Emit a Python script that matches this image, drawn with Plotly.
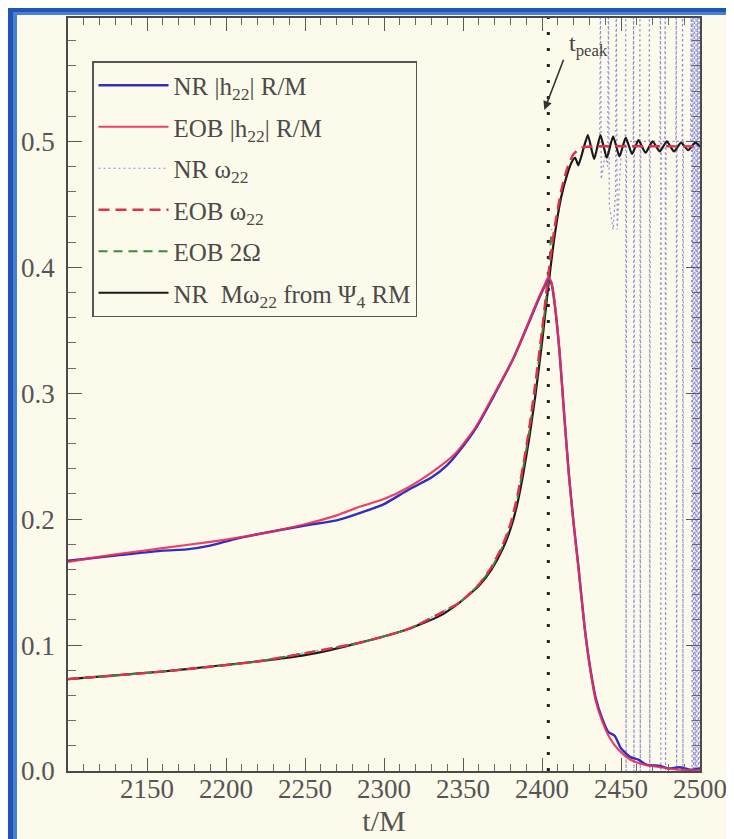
import plotly.graph_objects as go

# ---------------- data ----------------
t_peak = 2404

# EOB |h22| R/M
t_eob_amp = [2100, 2130, 2160, 2190, 2220, 2250, 2270, 2285, 2300, 2315, 2330, 2345, 2358, 2370,
             2382, 2392, 2398, 2402, 2404, 2406, 2408, 2411, 2414, 2417, 2420, 2423, 2427, 2430,
             2434, 2438, 2443, 2449, 2456, 2465, 2475, 2487, 2500]
eob_amp = [0.166, 0.172, 0.177, 0.182, 0.188, 0.196, 0.203, 0.210, 0.216, 0.225, 0.237, 0.252, 0.273, 0.300,
           0.328, 0.358, 0.376, 0.387, 0.392, 0.388, 0.372, 0.335, 0.283, 0.235, 0.196, 0.162, 0.113, 0.085,
           0.056, 0.040, 0.026, 0.016, 0.009, 0.005, 0.003, 0.001, 0.0005]

# NR |h22| R/M
t_nr_amp = [2100, 2130, 2160, 2175, 2190, 2205, 2220, 2250, 2270, 2285, 2300, 2315, 2330, 2340, 2345,
            2358, 2370, 2382, 2392, 2398, 2402, 2404, 2406, 2408, 2411, 2414, 2417, 2420, 2423, 2427,
            2430, 2434, 2438, 2442, 2446, 2450, 2456, 2461, 2466, 2475, 2480, 2487, 2494, 2500]
nr_amp = [0.167, 0.171, 0.175, 0.176, 0.179, 0.184, 0.188, 0.195, 0.199, 0.205, 0.212, 0.223, 0.233, 0.243, 0.250,
          0.272, 0.299, 0.328, 0.357, 0.375, 0.386, 0.391, 0.387, 0.371, 0.334, 0.284, 0.236, 0.197, 0.163, 0.114,
          0.086, 0.058, 0.042, 0.031, 0.028, 0.018, 0.011, 0.009, 0.005, 0.004, 0.002, 0.003, 0.001, 0.002]

# NR M omega22 from Psi4 RM
t_psi4 = [2100, 2130, 2160, 2190, 2220, 2250, 2285, 2316, 2335, 2348, 2360, 2368, 2375, 2380, 2384,
          2388, 2392, 2396, 2400, 2404, 2408, 2412, 2416, 2419, 2421, 2423, 2429, 2433, 2437, 2441, 2445, 2449,
          2453, 2457, 2461, 2465.5, 2470, 2474.5, 2479, 2483.5, 2488, 2492.5, 2497, 2500]
nr_om_psi4 = [0.073, 0.076, 0.079, 0.083, 0.087, 0.092, 0.102, 0.113, 0.123, 0.134, 0.147, 0.160, 0.176, 0.192, 0.210,
              0.235, 0.265, 0.300, 0.340, 0.385, 0.425, 0.455, 0.474, 0.484, 0.487, 0.481, 0.505, 0.486, 0.505, 0.487,
              0.504, 0.488, 0.503, 0.490, 0.501, 0.491, 0.500, 0.492, 0.500, 0.492, 0.499, 0.493, 0.499, 0.496]

# EOB omega22
t_eob_om = [2100, 2160, 2220, 2285, 2316, 2348, 2360, 2368, 2375, 2380, 2384, 2388, 2392, 2396, 2400, 2404,
            2408, 2412, 2416, 2420, 2425, 2432, 2500]
eob_om = [0.073, 0.079, 0.087, 0.102, 0.113, 0.134, 0.148, 0.162, 0.179, 0.196, 0.216, 0.242, 0.273, 0.310, 0.350, 0.394,
          0.432, 0.460, 0.479, 0.490, 0.495, 0.496, 0.496]

# EOB 2 Omega
t_eob_2om = [2100, 2160, 2220, 2285, 2316, 2348, 2360, 2368, 2375, 2380, 2384, 2388, 2392, 2396, 2400, 2404, 2406]
eob_2om = [0.073, 0.079, 0.087, 0.102, 0.113, 0.134, 0.148, 0.161, 0.178, 0.195, 0.214, 0.240, 0.270, 0.306, 0.346, 0.392, 0.430]

# NR omega22 (from h, noisy when the amplitude vanishes)
t_nr_om = [2100, 2160, 2220, 2285, 2316, 2348, 2360, 2368, 2375, 2380, 2384, 2388, 2392, 2396, 2400, 2404, 2408,
           2412, 2416, 2419, 2421, 2423,
           2429, 2433, 2436.5, 2437, 2437.5, 2440, 2441.6, 2442, 2442.6, 2445, 2446.6, 2447, 2447.6, 2450,
           2452.7, 2453, 2453.2, 2453.5, 2457.7, 2458, 2458.2, 2458.5, 2461.7, 2462, 2462.2, 2462.5,
           2467.7, 2468, 2468.2, 2468.5, 2474.7, 2475, 2475.2, 2475.5, 2477.7, 2478, 2478.2, 2478.5,
           2484.7, 2485, 2485.2, 2485.5, 2488.7, 2489, 2489.2, 2489.5, 2494, 2494.5, 2495, 2495.5, 2496,
           2496.5, 2497, 2497.5, 2498, 2498.5, 2499, 2499.5, 2500]
nr_om = [0.073, 0.079, 0.087, 0.102, 0.113, 0.134, 0.147, 0.160, 0.176, 0.192, 0.211, 0.236, 0.266, 0.301, 0.341, 0.386, 0.426,
         0.455, 0.474, 0.484, 0.486, 0.482,
         0.503, 0.487, 0.500, 0.620, 0.470, 0.490, 0.480, 0.620, 0.450, 0.430, 0.460, 0.620, 0.430, 0.490,
         0.500, 0.620, -0.02, 0.500, 0.500, 0.620, -0.02, 0.500, 0.500, 0.620, -0.02, 0.500,
         0.500, 0.620, -0.02, 0.500, 0.500, 0.620, -0.02, 0.500, 0.500, 0.620, -0.02, 0.500,
         0.500, 0.620, -0.02, 0.500, 0.500, 0.620, -0.02, 0.500, 0.500, 0.620, -0.02, 0.620, -0.02,
         0.620, -0.02, 0.620, -0.02, 0.620, -0.02, 0.620, -0.02]

x_ticks = [2150, 2200, 2250, 2300, 2350, 2400, 2450, 2500]
y_ticks = [0.0, 0.1, 0.2, 0.3, 0.4, 0.5]
y_ticktext = ["0.0", "0.1", "0.2", "0.3", "0.4", "0.5"]

# ---------------- styling ----------------
CREAM = "#fcfaea"
BLUE_DARK = "#1f56b6"
BLUE_LIGHT = "#4a7fd6"
FONT = "Liberation Serif"
TXT = "#555555"

# the page body has an 8px margin: the figure is sized so that it fills the window
OFF = 8
W, H = 734 - OFF, 839 - OFF
# plot area in page pixels: x 68..700, y 18..771
L, R, T, B = 68 - OFF, 734 - 700, 18 - OFF, 839 - 771
PW, PH = W - L - R, H - T - B


def px_x(page_x):
    return (page_x - OFF - L) / PW


def px_y(page_y):
    return 1 - (page_y - OFF - T) / PH


fig = go.Figure()

fig.add_trace(go.Scatter(x=t_nr_om, y=nr_om, mode="lines", name="NR ω<sub>22</sub>",
                         line=dict(color="#8c8cdc", width=1.2, dash="2px,3px"),
                         legendgroup="c", legendrank=3))
fig.add_trace(go.Scatter(x=[t_peak, t_peak], y=[0, 0.6], mode="lines", showlegend=False,
                         line=dict(color="#222222", width=3, dash="3px,13px"), hoverinfo="skip"))
fig.add_trace(go.Scatter(x=t_psi4, y=nr_om_psi4, mode="lines", name="NR  Mω<sub>22</sub> from Ψ<sub>4</sub> RM",
                         line=dict(color="#1a1a1a", width=2.2, shape="spline", smoothing=0.5),
                         legendgroup="f", legendrank=6))
fig.add_trace(go.Scatter(x=t_eob_2om, y=eob_2om, mode="lines", name="EOB 2Ω",
                         line=dict(color="#3a8a3a", width=2, dash="9px,6px", shape="spline", smoothing=0.5),
                         legendgroup="e", legendrank=5))
fig.add_trace(go.Scatter(x=t_eob_om, y=eob_om, mode="lines", name="EOB ω<sub>22</sub>",
                         line=dict(color="#e0304a", width=2.4, dash="11px,6px", shape="spline", smoothing=0.5),
                         legendgroup="d", legendrank=4))
fig.add_trace(go.Scatter(x=t_nr_amp, y=nr_amp, mode="lines", name="NR |h<sub>22</sub>| R/M",
                         line=dict(color="#2f2fc0", width=2.4, shape="spline", smoothing=0.6),
                         legendgroup="a", legendrank=1))
fig.add_trace(go.Scatter(x=t_eob_amp, y=eob_amp, mode="lines", name="EOB |h<sub>22</sub>| R/M",
                         line=dict(color="#ec2c58", width=2.2, shape="spline", smoothing=0.6), opacity=0.9,
                         legendgroup="b", legendrank=2))

# t_peak annotation
fig.add_annotation(x=2401.5, y=0.525, ax=2414, ay=0.566, axref="x", ayref="y", xref="x", yref="y",
                   text="", showarrow=True, arrowhead=2, arrowsize=1.1, arrowwidth=1.6, arrowcolor="#333333")
fig.add_annotation(x=2416, y=0.563, xref="x", yref="y", text="t<sub>peak</sub>", showarrow=False,
                   xanchor="left", yanchor="bottom", font=dict(family=FONT, size=24, color="#444444"))

# slide border (blue frame at top and left)
fig.add_shape(type="rect", xref="paper", yref="paper", x0=px_x(OFF - 2), x1=px_x(17), y0=px_y(850), y1=px_y(OFF - 2),
              fillcolor=BLUE_LIGHT, line_width=0, layer="below")
fig.add_shape(type="rect", xref="paper", yref="paper", x0=px_x(OFF - 2), x1=px_x(745), y0=px_y(15), y1=px_y(OFF - 2),
              fillcolor=BLUE_LIGHT, line_width=0, layer="below")
fig.add_shape(type="rect", xref="paper", yref="paper", x0=px_x(OFF - 2), x1=px_x(13), y0=px_y(850), y1=px_y(OFF - 2),
              fillcolor=BLUE_DARK, line_width=0, layer="below")
fig.add_shape(type="rect", xref="paper", yref="paper", x0=px_x(OFF - 2), x1=px_x(745), y0=px_y(12), y1=px_y(OFF - 2),
              fillcolor=BLUE_DARK, line_width=0, layer="below")

axis_common = dict(showgrid=False, zeroline=False, showline=True, linecolor="#4a4a4a", linewidth=1.5,
                   mirror="ticks", ticks="inside", tickcolor="#5a5a5a", tickwidth=1.3, automargin=False,
                   tickfont=dict(family=FONT, size=27, color=TXT))

fig.update_xaxes(range=[2100, 2500], tickvals=x_ticks, ticklen=13, ticklabelstandoff=-7,
                 minor=dict(ticks="inside", ticklen=7, tick0=2100, dtick=10, tickcolor="#6a6a6a"),
                 title=dict(text="t/M", font=dict(family=FONT, size=30, color=TXT), standoff=6),
                 **axis_common)
fig.update_yaxes(range=[0, 0.598], tickvals=y_ticks, ticktext=y_ticktext, ticklen=14,
                 minor=dict(ticks="inside", ticklen=8, tick0=0, dtick=0.02, tickcolor="#6a6a6a"),
                 ticklabelstandoff=6, **axis_common)

fig.update_layout(
    width=W, height=H,
    margin=dict(l=L, r=R, t=T, b=B, pad=0),
    paper_bgcolor=CREAM, plot_bgcolor=CREAM,
    font=dict(family=FONT, color=TXT),
    showlegend=True,
    legend=dict(x=px_x(92), y=px_y(61), xanchor="left", yanchor="top",
                bgcolor=CREAM, bordercolor="#555555", borderwidth=1.5,
                font=dict(family=FONT, size=25, color="#4a4a4a"),
                traceorder="grouped", tracegroupgap=6, itemwidth=70),
)

fig.write_html("out.html")
